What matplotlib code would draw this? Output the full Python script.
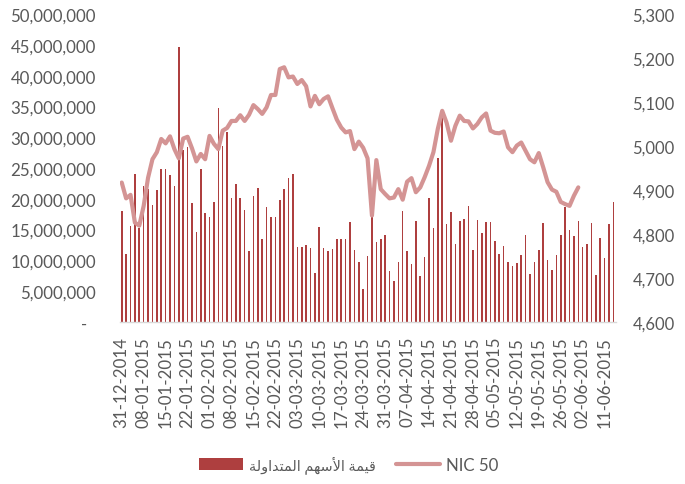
import matplotlib
matplotlib.use("Agg")
import matplotlib.pyplot as plt
from matplotlib.patches import Patch
from matplotlib.lines import Line2D
from matplotlib.ticker import FuncFormatter, MultipleLocator
import numpy as np

# ---- data ----
tick_labels = ["31-12-2014", "08-01-2015", "15-01-2015", "22-01-2015", "01-02-2015",
               "08-02-2015", "15-02-2015", "22-02-2015", "03-03-2015", "10-03-2015",
               "17-03-2015", "24-03-2015", "31-03-2015", "07-04-2015", "14-04-2015",
               "21-04-2015", "28-04-2015", "05-05-2015", "12-05-2015", "19-05-2015",
               "26-05-2015", "02-06-2015", "11-06-2015"]
label_every = 5  # one date label every 5 trading days

# traded value (millions)
trade_value_m = [
    18.1, 11.0, 15.6, 24.0, 15.3, 22.1, 21.6, 19.0, 21.4, 24.8,
    24.8, 23.8, 22.1, 44.6, 28.0, 28.4, 19.4, 14.6, 24.8, 17.7,
    17.0, 19.5, 34.8, 28.6, 30.8, 20.2, 22.4, 20.1, 18.2, 11.5,
    20.5, 21.8, 13.5, 18.6, 17.1, 17.1, 19.8, 21.6, 23.3, 24.1,
    12.1, 12.1, 12.5, 12.0, 7.9, 15.5, 12.0, 11.6, 11.8, 13.4,
    13.4, 13.4, 16.2, 11.7, 9.7, 5.4, 10.7, 17.0, 13.0, 13.5,
    14.2, 8.3, 6.7, 9.7, 18.0, 11.6, 9.4, 16.4, 7.4, 10.5,
    20.1, 15.3, 26.6, 33.2, 15.9, 17.9, 12.7, 16.4, 16.8, 18.9,
    11.7, 16.5, 14.4, 16.2, 16.2, 13.1, 11.1, 12.3, 9.8, 9.1,
    9.6, 10.9, 14.1, 7.8, 9.7, 11.7, 16.1, 10.0, 8.4, 10.9,
    14.1, 18.6, 14.9, 14.0, 16.4, 12.1, 12.7, 16.0, 7.6, 13.6,
    10.4, 15.9, 19.5]

nic50 = [
    4917, 4881, 4889, 4826, 4819, 4864, 4928, 4970, 4986, 5016,
    5006, 5022, 4993, 4972, 5017, 5021, 4995, 4965, 4982, 4970,
    5023, 5005, 4993, 5035, 5041, 5057, 5057, 5070, 5057, 5071,
    5093, 5084, 5073, 5088, 5116, 5116, 5175, 5179, 5156, 5158,
    5141, 5150, 5136, 5090, 5114, 5095, 5107, 5113, 5086, 5060,
    5042, 5031, 5034, 4993, 5010, 4996, 4972, 4842, 4968, 4902,
    4891, 4881, 4883, 4902, 4878, 4919, 4927, 4895, 4906, 4929,
    4955, 4986, 5039, 5080, 5053, 5012, 5046, 5069, 5057, 5056,
    5040, 5050, 5065, 5074, 5035, 5030, 5029, 5033, 4997, 4986,
    5001, 5008, 4989, 4970, 4963, 4984, 4952, 4918, 4901, 4896,
    4873, 4868, 4864, 4887, 4906]

# Arabic legend label, shaped into presentation forms in visual order
ar_label = "\uFE94\uFEDF\uFEED\uFE8D\uFEAA\uFE98\uFEE4\uFEDF\uFE8D \uFEE2\uFEEC\uFEB3\uFEF7\uFE8D \uFE94\uFEE4\uFEF4\uFED7"
line_label = "NIC 50"

# ---- style ----
bar_color = "#AE3F3F"
line_color = "#D49494"
text_color = "#595959"
fam = ["Lato", "DejaVu Sans"]
plt.rcParams["font.family"] = fam

fig = plt.figure(figsize=(6.85, 4.85), dpi=100)
ax = fig.add_axes([0.1745, 0.334, 0.7242, 0.635])
ax2 = ax.twinx()

x_bar = np.arange(len(trade_value_m))
ax.bar(x_bar, np.array(trade_value_m) * 1e6, width=0.36, color=bar_color, zorder=2)
x_line = np.arange(len(nic50))
ax2.plot(x_line, nic50, color=line_color, lw=3.0, solid_joinstyle="round",
         solid_capstyle="round", zorder=3)

ax.set_xlim(-0.5, len(trade_value_m) - 0.5)
ax.set_ylim(0, 50e6)
ax2.set_ylim(4600, 5300)

ax.yaxis.set_major_locator(MultipleLocator(5e6))
ax.yaxis.set_major_formatter(FuncFormatter(lambda v, p: "-  " if v == 0 else f"{v:,.0f}"))
ax2.yaxis.set_major_locator(MultipleLocator(100))
ax2.yaxis.set_major_formatter(FuncFormatter(lambda v, p: f"{v:,.0f}"))

ax.set_xticks(np.arange(len(tick_labels)) * label_every)
ax.set_xticklabels(tick_labels, rotation=90)

for a in (ax, ax2):
    for s in a.spines.values():
        s.set_visible(False)
ax.spines["bottom"].set_visible(True)
ax.spines["bottom"].set_color("#D9D9D9")
ax.spines["bottom"].set_linewidth(1.0)

ax.tick_params(axis="y", length=0, pad=17, labelsize=12.2, labelcolor=text_color)
ax2.tick_params(axis="y", length=0, pad=12, labelsize=12.0, labelcolor=text_color)
ax.tick_params(axis="x", length=0, pad=10, labelsize=12.2, labelcolor=text_color)

handles = [Patch(facecolor=bar_color, edgecolor="none"),
           Line2D([0], [0], color=line_color, lw=3.0, solid_capstyle="round")]
leg = fig.legend(handles, [ar_label, line_label], loc="center", ncol=2,
                 bbox_to_anchor=(0.5095, 0.040), frameon=False, fontsize=12.2,
                 handlelength=2.6, columnspacing=1.2, handletextpad=0.35)
texts = leg.get_texts()
for t in texts:
    t.set_color(text_color)
    t.set_family(fam)
texts[0].set_fontsize(10.4)

fig.savefig("out.png", dpi=100)
